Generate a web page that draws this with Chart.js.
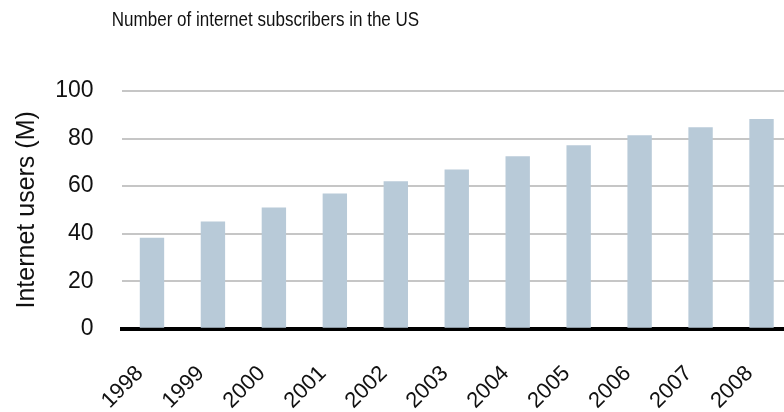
<!DOCTYPE html>
<html>
<head>
<meta charset="utf-8">
<script src="https://cdn.jsdelivr.net/npm/chart.js@4"></script>
<style>
    html, body { margin: 0; padding: 0; background: #fff; overflow: hidden; }
    #wrap { width: 792px; height: 412px; }
</style>
</head>
<body>
<div id="wrap"><canvas id="subscribers-chart" width="792" height="412"></canvas></div>
<script>
const years = ['1998', '1999', '2000', '2001', '2002', '2003', '2004', '2005', '2006', '2007', '2008'];
const usersMillions = [38.3, 45.1, 51.0, 56.9, 62.0, 67.0, 72.5, 77.2, 81.4, 84.8, 88.2];
const yTicks = [0, 20, 40, 60, 80, 100];

const FONT = "'Liberation Sans', Arial, Helvetica, sans-serif";

// title sits over the left part of the figure and uses a condensed face,
// so draw it by hand and squeeze it horizontally
const titlePlugin = {
    id: 'figureTitle',
    afterDraw(chart) {
        const ctx = chart.ctx;
        ctx.save();
        ctx.translate(265.5, 20);
        ctx.scale(0.83, 1);
        ctx.font = '20.5px ' + FONT;
        ctx.fillStyle = '#111';
        ctx.textAlign = 'center';
        ctx.textBaseline = 'middle';
        ctx.fillText('Number of internet subscribers in the US', 0, 0);
        ctx.restore();
    }
};

const ctx = document.getElementById('subscribers-chart').getContext('2d');
window.subscribersChart = new Chart(ctx, {
    type: 'bar',
    data: {
        labels: years,
        datasets: [{
            label: 'Internet users (M)',
            data: usersMillions,
            backgroundColor: '#b8cad8',
            borderWidth: 0,
            barPercentage: 0.4,
            categoryPercentage: 1.0
        }]
    },
    options: {
        responsive: false,
        animation: false,
        layout: { padding: { top: 91, left: 0, right: 0, bottom: 0 } },
        plugins: {
            legend: { display: false },
            title: { display: false },
            tooltip: { enabled: false }
        },
        scales: {
            x: {
                grid: { display: false, drawTicks: false },
                border: { display: true, color: '#000', width: 4 },
                ticks: {
                    color: '#111',
                    font: { family: FONT, size: 22 },
                    maxRotation: 45,
                    minRotation: 45,
                    autoSkip: false,
                    padding: 32,
                    labelOffset: -12
                },
                afterFit: function(scale) {
                    scale.height = 83.3;
                    // labels may spill past the plot edges; don't shrink the plot for them
                    scale.paddingLeft = 0;
                    scale.paddingRight = 0;
                }
            },
            y: {
                min: 0,
                max: 100,
                afterBuildTicks: function(scale) {
                    scale.ticks = yTicks.map(v => ({ value: v }));
                },
                grid: { color: '#c6c6c6', lineWidth: 2, drawTicks: false },
                border: { display: false },
                ticks: {
                    color: '#111',
                    font: { family: FONT, size: 23 },
                    padding: 28
                },
                title: {
                    display: true,
                    text: 'Internet users (M)',
                    color: '#111',
                    font: { family: FONT, size: 25 },
                    padding: { top: 12, bottom: 0 }
                },
                afterFit: function(scale) {
                    scale.width = 121.5;
                }
            }
        }
    },
    plugins: [titlePlugin]
});
</script>
</body>
</html>
